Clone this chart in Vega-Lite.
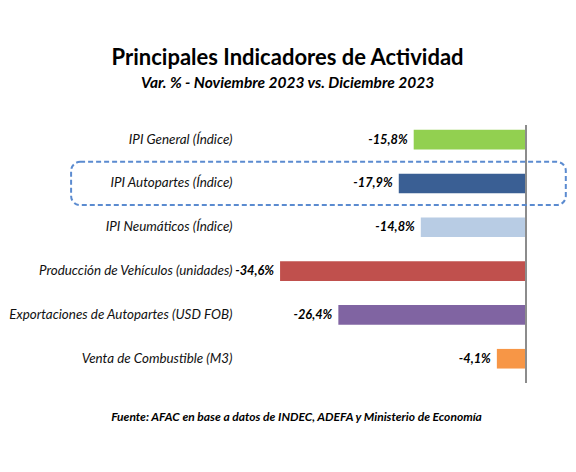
{
  "$schema": "https://vega.github.io/schema/vega-lite/v6.json",
  "autosize": {"type": "none"},
  "width": 290,
  "height": 258,
  "padding": {"left": 236, "top": 125, "right": 50, "bottom": 89},
  "title": {
    "text": "Principales Indicadores de Actividad",
    "subtitle": "Var. % - Noviembre 2023 vs. Diciembre 2023",
    "anchor": "middle",
    "frame": "bounds",
    "offset": 32,
    "font": "Lato",
    "fontSize": 22,
    "fontWeight": "bold",
    "color": "#000000",
    "subtitleFont": "Lato",
    "subtitleFontSize": 15.5,
    "subtitleFontWeight": "bold",
    "subtitleFontStyle": "italic",
    "subtitleColor": "#000000",
    "subtitlePadding": 6
  },
  "config": {
    "font": "Lato",
    "view": {"stroke": null},
    "locale": {
      "number": {
        "decimal": ",",
        "thousands": ".",
        "grouping": [3],
        "currency": ["$", ""],
        "minus": "-",
        "percent": "%"
      }
    }
  },
  "data": {
    "values": [
      {"indicador": "IPI General (Índice)", "valor": -0.158},
      {"indicador": "IPI Autopartes (Índice)", "valor": -0.179},
      {"indicador": "IPI Neumáticos (Índice)", "valor": -0.148},
      {"indicador": "Producción de Vehículos (unidades)", "valor": -0.346},
      {"indicador": "Exportaciones de Autopartes (USD FOB)", "valor": -0.264},
      {"indicador": "Venta de Combustible (M3)", "valor": -0.041}
    ]
  },
  "layer": [
    {
      "mark": {"type": "bar"},
      "encoding": {
        "y": {
          "field": "indicador",
          "type": "nominal",
          "sort": null,
          "scale": {"paddingInner": 0.552, "paddingOuter": 0.22, "align": 0.25},
          "axis": {
            "title": null,
            "domain": false,
            "ticks": false,
            "tickSize": 0,
            "labelPadding": 4,
            "labelLimit": 400,
            "labelFont": "Lato",
            "labelFontSize": 13.4,
            "labelFontStyle": "italic",
            "labelColor": "#111111"
          }
        },
        "x": {
          "field": "valor",
          "type": "quantitative",
          "scale": {"domain": [-0.408, 0], "nice": false, "zero": false},
          "axis": {
            "labels": false,
            "ticks": false,
            "domain": false,
            "grid": false,
            "title": "Fuente: AFAC en base a datos de INDEC, ADEFA y Ministerio de Economía",
            "titleFont": "Lato",
            "titleFontSize": 12,
            "titleFontWeight": "bold",
            "titleFontStyle": "italic",
            "titleColor": "#000000",
            "titleAlign": "center",
            "titleBaseline": "middle",
            "titleX": 60,
            "titleY": 33
          }
        },
        "color": {
          "field": "indicador",
          "type": "nominal",
          "legend": null,
          "scale": {
            "domain": [
              "IPI General (Índice)",
              "IPI Autopartes (Índice)",
              "IPI Neumáticos (Índice)",
              "Producción de Vehículos (unidades)",
              "Exportaciones de Autopartes (USD FOB)",
              "Venta de Combustible (M3)"
            ],
            "range": ["#92d050", "#3a5f94", "#b8cce4", "#c0504d", "#8064a2", "#f79646"]
          }
        }
      }
    },
    {
      "mark": {"type": "text", "align": "right", "baseline": "middle", "dx": -6, "fontSize": 12.8, "fontWeight": "bold", "fontStyle": "italic", "font": "Lato", "color": "#000000"},
      "encoding": {
        "y": {"field": "indicador", "type": "nominal", "sort": null},
        "x": {"field": "valor", "type": "quantitative", "scale": {"domain": [-0.408, 0], "nice": false, "zero": false}},
        "text": {"field": "valor", "type": "quantitative", "format": ".1%"}
      }
    },
    {
      "mark": {"type": "rule", "color": "#8c8c8c", "strokeWidth": 1.5},
      "encoding": {
        "x": {"datum": 0, "type": "quantitative", "scale": {"domain": [-0.408, 0], "nice": false, "zero": false}}
      }
    },
    {
      "transform": [{"filter": "datum.indicador === 'IPI Autopartes (Índice)'"}],
      "mark": {"type": "bar", "height": {"band": 2.2}, "fillOpacity": 0, "stroke": "#5b8bd0", "strokeWidth": 2, "strokeDash": [5, 3], "cornerRadius": 9},
      "encoding": {
        "y": {"field": "indicador", "type": "nominal", "sort": null},
        "x": {"datum": -0.64, "type": "quantitative", "scale": {"domain": [-0.408, 0], "nice": false, "zero": false}},
        "x2": {"datum": 0.056}
      }
    }
  ]
}
